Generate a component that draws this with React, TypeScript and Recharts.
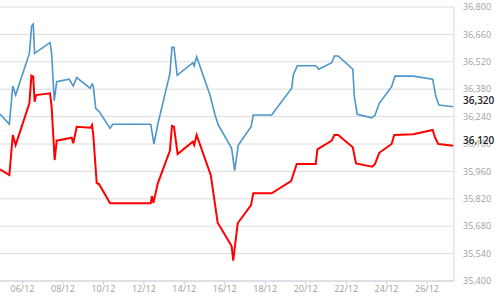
import React from 'react'
import { LineChart, Line, XAxis, YAxis, CartesianGrid, ReferenceLine } from 'recharts'

// day of December (fractional) and price
const blueDays = [
  4.89, 5.35, 5.52, 5.66, 6.34, 6.45, 6.53, 6.6, 7.36, 7.44, 7.57, 7.69, 8.31, 8.51, 8.68, 9.34,
  9.44, 9.5, 9.62, 9.8, 10.33, 10.46, 12.34, 12.5, 12.69, 13.29, 13.39, 13.49, 13.65, 14.42, 14.49,
  14.61, 15.27, 15.52, 15.68, 16.34, 16.49, 16.67, 17.3, 17.41, 18.32, 19.31, 19.39, 19.59, 20.51,
  20.65, 21.29, 21.42, 21.61, 22.33, 22.41, 22.55, 23.27, 23.43, 23.64, 24.25, 24.42, 25.32, 26.28,
  26.44, 26.59, 27.3,
]
const blueValues = [
  36253, 36201, 36396, 36350, 36563, 36703, 36713, 36563, 36618, 36563, 36321, 36418, 36431, 36396,
  36439, 36385, 36407, 36396, 36282, 36265, 36180, 36201, 36201, 36100, 36201, 36461, 36594, 36594,
  36451, 36515, 36499, 36546, 36350, 36248, 36197, 36078, 35964, 36095, 36188, 36248, 36248, 36385,
  36453, 36500, 36500, 36482, 36515, 36550, 36550, 36483, 36342, 36252, 36234, 36248, 36308, 36393,
  36447, 36447, 36431, 36342, 36299, 36290,
]

const redDays = [
  4.89, 5.35, 5.52, 5.66, 6.34, 6.44, 6.53, 6.6, 6.67, 7.36, 7.44, 7.59, 7.69, 8.43, 8.51, 8.68,
  9.37, 9.44, 9.5, 9.67, 9.78, 10.33, 12.34, 12.4, 12.47, 12.69, 13.29, 13.39, 13.49, 13.67, 14.42,
  14.49, 14.61, 15.31, 15.65, 16.34, 16.42, 16.64, 17.3, 17.41, 18.32, 19.28, 19.56, 20.5, 20.58,
  21.29, 21.42, 21.61, 22.33, 22.49, 23.29, 23.43, 23.64, 24.25, 24.38, 25.32, 26.28, 26.4, 26.56,
  27.3,
]
const redValues = [
  35971, 35941, 36146, 36095, 36308, 36449, 36444, 36316, 36350, 36359, 36291, 36018, 36117, 36132,
  36104, 36188, 36183, 36197, 36146, 35899, 35896, 35797, 35797, 35834, 35799, 35899, 36066, 36192,
  36188, 36049, 36112, 36095, 36146, 35941, 35698, 35579, 35504, 35695, 35788, 35848, 35848, 35911,
  35998, 35998, 36073, 36117, 36146, 36146, 36083, 36001, 35984, 35998, 36055, 36100, 36146, 36150,
  36172, 36132, 36100, 36091,
]

const dayTicks = [6, 8, 10, 12, 14, 16, 18, 20, 22, 24, 26]
const priceTicks = [35400, 35540, 35680, 35820, 35960, 36100, 36240, 36380, 36520, 36660, 36800]
const lastBlue = 36320
const lastRed = 36120

const blueData = blueDays.map((d, i) => ({ d, v: blueValues[i] }))
const redData = redDays.map((d, i) => ({ d, v: redValues[i] }))

const fmt = (v: number) => v.toLocaleString('en-US')
const fmtDay = (d: number) => String(d).padStart(2, '0') + '/12'

const tickStyle = { fill: '#a0a0a0', fontSize: 9, fontFamily: 'Open Sans' }

export default function App() {
  return (
    <div style={{ position: 'absolute', left: 0, top: 0, width: 500, height: 297, background: '#fff' }}>
      <LineChart width={500} height={297} margin={{ top: 7, right: 0, bottom: 0, left: 0 }}>
        <CartesianGrid horizontal vertical={false} stroke="#dcdcdc" />
        <XAxis
          type="number"
          dataKey="d"
          domain={[4.8875, 27.335]}
          ticks={dayTicks}
          tickFormatter={fmtDay}
          allowDataOverflow
          height={16}
          tick={tickStyle}
          tickSize={4}
          tickMargin={1}
          stroke="#ccd6e0"
        />
        <YAxis
          orientation="right"
          type="number"
          domain={[35400, 36800]}
          ticks={priceTicks}
          tickFormatter={fmt}
          width={46}
          tick={tickStyle}
          tickLine={false}
          tickSize={0}
          tickMargin={9}
          stroke="#ccd6e0"
        />
        <Line data={blueData} dataKey="v" type="linear" stroke="#4d96c9" strokeWidth={1.6} dot={false} isAnimationActive={false} />
        <Line data={redData} dataKey="v" type="linear" stroke="#ff0000" strokeWidth={2} dot={false} isAnimationActive={false} />
        <ReferenceLine
          y={lastBlue}
          strokeOpacity={0}
          label={{ value: fmt(lastBlue), position: 'right', offset: 9, fill: '#222', fontSize: 10, fontWeight: 600, fontFamily: 'Open Sans' }}
        />
        <ReferenceLine
          y={lastRed}
          strokeOpacity={0}
          label={{ value: fmt(lastRed), position: 'right', offset: 9, fill: '#222', fontSize: 10, fontWeight: 600, fontFamily: 'Open Sans' }}
        />
      </LineChart>
    </div>
  )
}
